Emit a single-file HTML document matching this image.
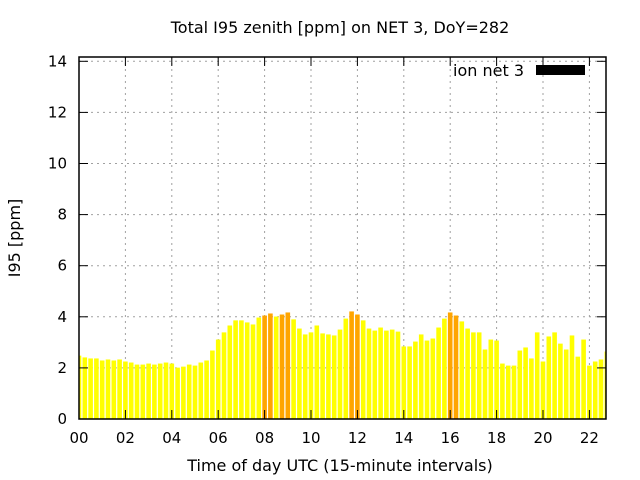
<!DOCTYPE html>
<html><head><meta charset="utf-8"><style>
body{margin:0;background:#fff;}
svg{display:block;font-family:"DejaVu Sans","Liberation Sans",sans-serif;}
</style></head><body>
<svg id="chart" width="640" height="480">
<text x="340" y="33" text-anchor="middle" font-size="16">Total I95 zenith [ppm] on NET 3, DoY=282</text>
<text x="340" y="471" text-anchor="middle" font-size="16">Time of day UTC (15-minute intervals)</text>
<text transform="translate(20,238) rotate(-90)" text-anchor="middle" font-size="16">I95 [ppm]</text>
<g id="grid"></g><g id="bars"></g><g id="axes"></g>
<text x="524" y="76" text-anchor="end" font-size="16">ion net 3</text>
<rect x="536" y="65" width="49" height="10" fill="#000"/>
</svg>
<script>
const values=[2.48,2.41,2.37,2.37,2.29,2.33,2.29,2.33,2.25,2.21,2.13,2.13,2.17,2.13,2.17,2.21,2.17,2.01,2.05,2.13,2.09,2.21,2.29,2.68,3.11,3.39,3.66,3.86,3.86,3.78,3.70,3.97,4.05,4.13,4.01,4.09,4.17,3.90,3.54,3.31,3.39,3.66,3.35,3.31,3.27,3.50,3.93,4.21,4.09,3.86,3.54,3.46,3.58,3.46,3.50,3.42,2.84,2.84,3.03,3.31,3.07,3.15,3.58,3.93,4.17,4.05,3.82,3.54,3.39,3.39,2.72,3.11,3.07,2.17,2.09,2.09,2.68,2.80,2.37,3.39,2.25,3.23,3.39,2.95,2.72,3.27,2.44,3.11,2.09,2.25,2.33,2.64];
const xTickLabels=["00","02","04","06","08","10","12","14","16","18","20","22"];
const yTicks=[0,2,4,6,8,10,12,14];
const L=79,R=606,T=57,B=419,P=5.8,U=25.55;
const NS="http://www.w3.org/2000/svg";
function X(i){return L+i*P;}
function Y(v){return B-v*U;}
function mk(parent,tag,attrs){const e=document.createElementNS(NS,tag);for(const k in attrs)e.setAttribute(k,attrs[k]);document.getElementById(parent).appendChild(e);return e;}
const gridStyle={stroke:"#a0a0a0","stroke-width":1,"stroke-dasharray":"2,4"};
yTicks.forEach(v=>{
 const y=Y(v);
 if(v>0){const g=mk("grid","line",Object.assign({x1:L,x2:R,y1:y,y2:y},gridStyle));
 
 }
 mk("axes","line",{x1:L,x2:L+9,y1:y,y2:y,stroke:"#000"});
 mk("axes","line",{x1:R-9,x2:R,y1:y,y2:y,stroke:"#000"});
 const t=mk("axes","text",{x:L-12,y:y+5,"text-anchor":"end","font-size":15});
 t.textContent=v;
 
 
});
xTickLabels.forEach((lab,k)=>{
 const x=X(k*8);
 if(k>0){const g=mk("grid","line",Object.assign({x1:x,x2:x,y1:T,y2:B},gridStyle));
 
 }
 mk("axes","line",{x1:x,x2:x,y1:B-9,y2:B,stroke:"#000"});
 mk("axes","line",{x1:x,x2:x,y1:T,y2:T+9,stroke:"#000"});
 const t=mk("axes","text",{x:x,y:B+24,"text-anchor":"middle","font-size":15});
 t.textContent=lab;
 
 
});
values.forEach((v,i)=>{
 const cx=X(i),w=4.6;
 let x0=Math.max(L,cx-w/2),x1=Math.min(R,cx+w/2);
 if(x1<=x0)return;
 const r=mk("bars","rect",{x:x0,y:Y(v),width:x1-x0,height:B-Y(v),fill:v>4.03?"#ffa500":"#ffff00"});
 
 
});
const f=mk("axes","rect",{x:L,y:T,width:R-L,height:B-T,fill:"none",stroke:"#000","stroke-width":1.5});


</script>
</body></html>
